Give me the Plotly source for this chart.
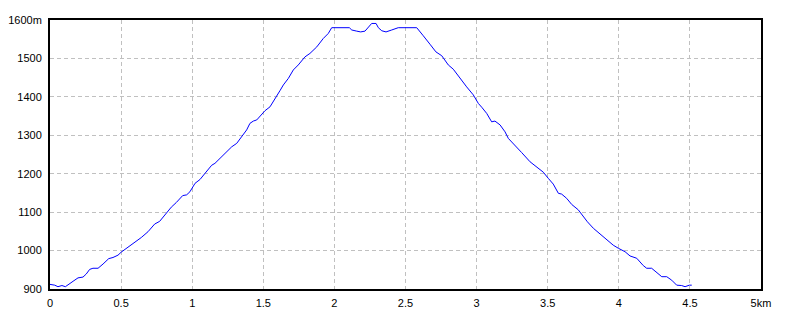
import plotly.graph_objects as go

distance_km = [0.0, 0.033, 0.056, 0.084, 0.108, 0.132, 0.162, 0.197, 0.232, 0.255, 0.279, 0.302, 0.338,
               0.373, 0.413, 0.443, 0.478, 0.501, 0.537, 0.560, 0.596, 0.642, 0.689, 0.736, 0.771, 0.795,
               0.818, 0.853, 0.888, 0.914, 0.933, 0.961, 0.984, 1.020, 1.055, 1.090, 1.113, 1.137, 1.160,
               1.219, 1.278, 1.313, 1.348, 1.383, 1.406, 1.430, 1.454, 1.489, 1.512, 1.547, 1.570, 1.594,
               1.617, 1.641, 1.676, 1.711, 1.746, 1.793, 1.828, 1.876, 1.922, 1.957, 1.981, 2.105, 2.122,
               2.157, 2.185, 2.215, 2.238, 2.262, 2.293, 2.309, 2.333, 2.363, 2.403, 2.449, 2.579, 2.597,
               2.625, 2.672, 2.714, 2.755, 2.801, 2.836, 2.883, 2.930, 2.977, 3.012, 3.036, 3.071, 3.106,
               3.129, 3.165, 3.200, 3.223, 3.258, 3.317, 3.376, 3.423, 3.469, 3.504, 3.539, 3.575, 3.598,
               3.633, 3.669, 3.715, 3.750, 3.779, 3.821, 3.880, 3.926, 3.961, 3.997, 4.044, 4.079, 4.126,
               4.172, 4.196, 4.231, 4.266, 4.302, 4.337, 4.372, 4.407, 4.442, 4.466, 4.496, 4.513]
elevation_m = [912, 910, 906, 909, 906, 913, 920, 929, 931, 939, 951, 954, 954,
               965, 979, 982, 988, 996, 1006, 1010, 1021, 1034, 1049, 1069, 1076, 1087,
               1100, 1113, 1125, 1136, 1143, 1145, 1153, 1175, 1185, 1201, 1212, 1222, 1227,
               1249, 1270, 1279, 1295, 1314, 1331, 1337, 1340, 1353, 1364, 1374, 1387, 1403,
               1416, 1431, 1448, 1470, 1483, 1504, 1513, 1530, 1552, 1565, 1580, 1580, 1574,
               1571, 1569, 1571, 1582, 1591, 1591, 1580, 1572, 1569, 1574, 1580, 1580, 1571,
               1559, 1537, 1517, 1507, 1483, 1472, 1448, 1426, 1405, 1383, 1373, 1357, 1335,
               1337, 1327, 1309, 1292, 1279, 1255, 1231, 1218, 1204, 1188, 1173, 1149, 1147,
               1136, 1120, 1106, 1088, 1075, 1058, 1040, 1027, 1014, 1006, 997, 986, 980,
               961, 954, 954, 942, 932, 932, 923, 910, 909, 906, 910, 910]

x_tickvals = [0, 0.5, 1, 1.5, 2, 2.5, 3, 3.5, 4, 4.5, 5]
x_ticktext = ["0", "0.5", "1", "1.5", "2", "2.5", "3", "3.5", "4", "4.5", "5km"]
y_tickvals = [900, 1000, 1100, 1200, 1300, 1400, 1500, 1600]
y_ticktext = ["900", "1000", "1100", "1200", "1300", "1400", "1500", "1600m"]

fig = go.Figure()
fig.add_trace(go.Scatter(x=distance_km, y=elevation_m, mode="lines",
                         line=dict(color="#0000ff", width=1), hoverinfo="skip"))

font = dict(family="Liberation Sans, Arial, sans-serif", size=11, color="#000000")
fig.update_layout(
    width=800, height=320,
    margin=dict(l=50, r=39, t=20, b=31, pad=0),
    paper_bgcolor="#ffffff", plot_bgcolor="#ffffff",
    showlegend=False, font=font,
    xaxis=dict(range=[0, 5], tickvals=x_tickvals, ticktext=x_ticktext, ticks="",
               showgrid=True, gridcolor="#c0c0c0", griddash="4px,3px", gridwidth=1,
               showline=True, linecolor="#000000", linewidth=2, mirror=True,
               zeroline=False, tickfont=font, ticklabelstandoff=3, automargin=False),
    yaxis=dict(range=[900, 1600], tickvals=y_tickvals, ticktext=y_ticktext, ticks="",
               showgrid=True, gridcolor="#c0c0c0", griddash="4px,3px", gridwidth=1,
               showline=True, linecolor="#000000", linewidth=2, mirror=True,
               zeroline=False, tickfont=font, ticklabelstandoff=4, automargin=False),
)
fig.write_html("out.html")
